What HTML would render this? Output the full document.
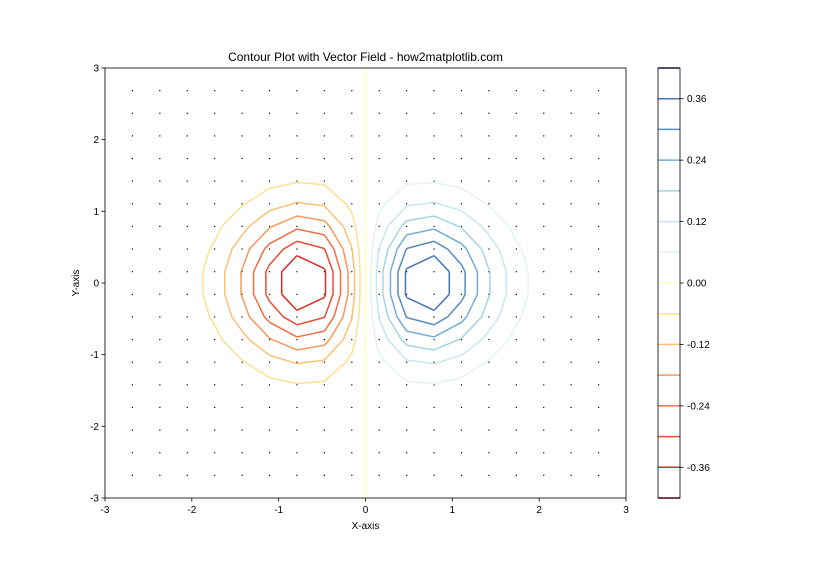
<!DOCTYPE html>
<html><head><meta charset="utf-8"><style>
body{margin:0;background:#fff}
svg text{font-family:"Liberation Sans","DejaVu Sans",sans-serif;font-size:10px;fill:#000}
</style></head><body>
<svg id="s" width="840" height="560" xmlns="http://www.w3.org/2000/svg">
<rect width="840" height="560" fill="#fff"/>
<g id="dots"></g>
<g id="cont" fill="none" stroke-width="1.5" stroke-linejoin="round"></g>
<rect x="105" y="68" width="521" height="430" fill="none" stroke="#000" stroke-width="0.8"/>
<g id="ticks"></g>
<text x="365.5" y="61" text-anchor="middle" style="font-size:12px">Contour Plot with Vector Field - how2matplotlib.com</text>
<text x="365.5" y="529" text-anchor="middle">X-axis</text>
<text x="79" y="283" text-anchor="middle" transform="rotate(-90 79 283)">Y-axis</text>
<g id="cb"></g>
<rect x="658" y="68" width="22" height="430" fill="none" stroke="#000" stroke-width="0.8"/>
</svg>
<script>
const NS="http://www.w3.org/2000/svg";
function el(p,t,a,txt){const e=document.createElementNS(NS,t);for(const k in a)e.setAttribute(k,a[k]);if(txt!==undefined)e.textContent=txt;document.getElementById(p).appendChild(e);return e;}
const X0=105,X1=626,Y0=68,Y1=498;
const px=x=>X0+(x+3)/6*(X1-X0), py=y=>Y1-(y+3)/6*(Y1-Y0);
for(let v=-3;v<=3;v++){
 el("ticks","line",{x1:px(v),x2:px(v),y1:Y1,y2:Y1+3.5,stroke:"#000","stroke-width":0.8});
 el("ticks","text",{x:px(v),y:Y1+15,"text-anchor":"middle"},""+v);
 el("ticks","line",{x1:X0-3.5,x2:X0,y1:py(v),y2:py(v),stroke:"#000","stroke-width":0.8});
 el("ticks","text",{x:X0-6,y:py(v)+3.5,"text-anchor":"end"},""+v);
}
const N=20,g=[];for(let i=0;i<N;i++)g.push(-3+6*i/(N-1));
const f=(x,y)=>x*Math.exp(-x*x-y*y);
for(let i=1;i<N-1;i++)for(let j=1;j<N-1;j++)el("dots","rect",{x:px(g[i])-0.6,y:py(g[j])-0.6,width:1.2,height:1.2,fill:"#000"});
const levels=[],cols=["#a50026","#d62f27","#e54e35","#f46d43","#f99858","#fdbf71","#fee090","#ffffbf","#e6f4ea","#c8e6f0","#a5d4e7","#74add1","#588cc0","#4575b4","#313695"];
for(let k=-7;k<=7;k++)levels.push(k*0.06);
const Z=[];for(let i=0;i<N;i++){Z.push([]);for(let j=0;j<N;j++)Z[i].push(f(g[i],g[j]));}
levels.forEach((L,li)=>{
 let d="";
 for(let i=0;i<N-1;i++)for(let j=0;j<N-1;j++){
  const c=[[i,j],[i+1,j],[i+1,j+1],[i,j+1]];
  const pts=[];
  for(let e=0;e<4;e++){const a=c[e],b=c[(e+1)%4];const za=Z[a[0]][a[1]]-L,zb=Z[b[0]][b[1]]-L;
   if((za<0)!==(zb<0)){const t=za/(za-zb);const x=g[a[0]]+t*(g[b[0]]-g[a[0]]),y=g[a[1]]+t*(g[b[1]]-g[a[1]]);pts.push([px(x),py(y)]);}}
  for(let p=0;p+1<pts.length;p+=2)d+=`M${pts[p][0].toFixed(2)} ${pts[p][1].toFixed(2)}L${pts[p+1][0].toFixed(2)} ${pts[p+1][1].toFixed(2)}`;
 }
 if(d)el("cont","path",{d:d,stroke:cols[li]});
 const y=498-(L+0.42)/0.84*430;
 el("cb","line",{x1:658,x2:680,y1:y,y2:y,stroke:cols[li],"stroke-width":1.5});
});
[0.36,0.24,0.12,0,-0.12,-0.24,-0.36].forEach(v=>{const y=498-(v+0.42)/0.84*430;
 el("cb","line",{x1:680,x2:683.5,y1:y,y2:y,stroke:"#000","stroke-width":0.8});
 el("cb","text",{x:687,y:y+3.5},(v<0?"-":"")+Math.abs(v).toFixed(2));});
</script>
</body></html>
